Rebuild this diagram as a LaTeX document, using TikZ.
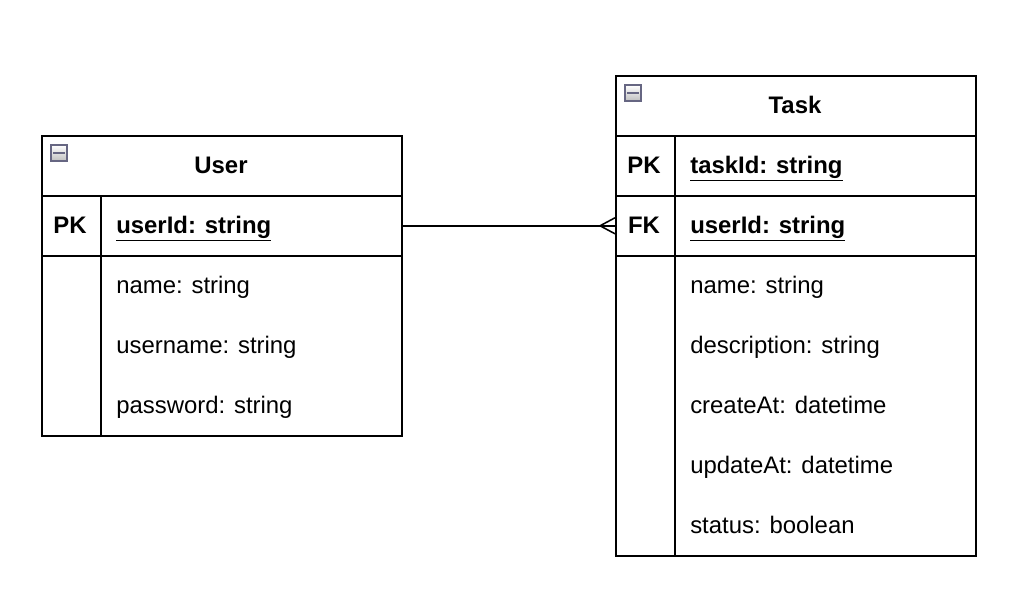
\documentclass[tikz,border=0pt]{standalone}
\usepackage{fontspec}
\setmainfont{Liberation Sans}
\usetikzlibrary{calc}

\newcommand{\keyline}[1]{\underline{#1}}

\tikzset{
  erbox/.style={draw, line width=1.1pt, minimum width=9cm, minimum height=1.5cm, inner sep=0pt, anchor=north west},
  headtext/.style={font=\fontsize{17}{20}\selectfont\bfseries, anchor=base, inner sep=0pt},
  keytext/.style={font=\fontsize{17}{20}\selectfont\bfseries, anchor=base, inner sep=0pt},
  fieldtext/.style={font=\fontsize{17}{20}\selectfont, anchor=base west, inner sep=0pt},
  keyfield/.style={font=\fontsize{17}{20}\selectfont\bfseries, anchor=base west, inner sep=0pt},
  foldicon/.style={draw=black!45!blue!20!gray, line width=1.5pt, top color=white, bottom color=gray!50,
    minimum size=0.4cm, inner sep=0pt,
    path picture={\draw[line width=2pt] ([xshift=-0.14cm]path picture bounding box.center) -- ([xshift=0.14cm]path picture bounding box.center);}}
}

\begin{document}
\begin{tikzpicture}[x=0.025cm, y=-0.025cm]
  \useasboundingbox (0,0) rectangle (1024,608);
  % User table
  \node[erbox] (userhead) at (41,135) {};
  \node[erbox] (userpk) at (41,195) {};
  \node[erbox, minimum height=4.5cm] (userbody) at (41,255) {};
  \draw[line width=1.1pt] ([xshift=1.5cm]userpk.north west) -- ([xshift=1.5cm]userbody.south west);
  \node[foldicon] (usericon) at (59,153) {};
  \node[headtext] (usertitle) at (221,173) {User};
  \node[keytext] (userpklabel) at (70,233) {PK};
  \node[keyfield] (userid) at (116,233) {\keyline{userId: string}};
  \node[fieldtext] (username1) at (116,293) {name: string};
  \node[fieldtext] (username2) at (116,353) {username: string};
  \node[fieldtext] (userpass) at (116,413) {password: string};
  % Task table
  \node[erbox] (taskhead) at (615,75) {};
  \node[erbox] (taskpk) at (615,135) {};
  \node[erbox] (taskfk) at (615,195) {};
  \node[erbox, minimum height=7.5cm] (taskbody) at (615,255) {};
  \draw[line width=1.1pt] ([xshift=1.5cm]taskpk.north west) -- ([xshift=1.5cm]taskbody.south west);
  \node[foldicon] (taskicon) at (633,93) {};
  \node[headtext] (tasktitle) at (795,113) {Task};
  \node[keytext] (taskpklabel) at (644,173) {PK};
  \node[keytext] (taskfklabel) at (644,233) {FK};
  \node[keyfield] (taskid) at (690,173) {\keyline{taskId: string}};
  \node[keyfield] (taskuser) at (690,233) {\keyline{userId: string}};
  \node[fieldtext] (taskname) at (690,293) {name: string};
  \node[fieldtext] (taskdesc) at (690,353) {description: string};
  \node[fieldtext] (taskcreate) at (690,413) {createAt: datetime};
  \node[fieldtext] (taskupdate) at (690,473) {updateAt: datetime};
  \node[fieldtext] (taskstatus) at (690,533) {status: boolean};
  % relation, many end at Task
  \draw[line width=1.1pt] (userpk.east) -- (taskfk.west);
  \coordinate (fork) at ($(taskfk.west)+(-15,0)$);
  \draw[line width=1.1pt] ($(taskfk.west)+(0,-8)$) -- (fork) -- ($(taskfk.west)+(0,8)$);
\end{tikzpicture}
\end{document}
